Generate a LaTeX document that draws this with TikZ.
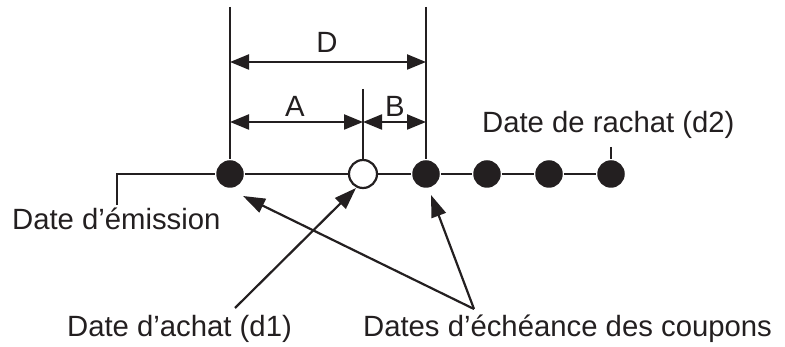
\documentclass[tikz,border=0pt]{standalone}
\usepackage{fontspec}
\setmainfont{Liberation Sans}
\usetikzlibrary{arrows.meta}
\definecolor{InkBlack}{RGB}{35,31,32}

\begin{document}
\begin{tikzpicture}[x=1pt,y=-1pt,line width=2.2pt,draw=InkBlack,
dot/.style={circle,fill=InkBlack,inner sep=0pt,minimum size=27.5pt},
opendot/.style={circle,draw=InkBlack,fill=white,inner sep=0pt,minimum size=28pt},
lbl/.style={anchor=base west,inner sep=0pt,text=InkBlack,font=\fontsize{29.3}{35}\selectfont},
dim/.style={{Triangle[length=19pt,width=15pt]}-{Triangle[length=19pt,width=15pt]},draw=InkBlack},
arrow/.style={-{Triangle[length=22pt,width=15pt]},draw=InkBlack}]
\useasboundingbox (0,0) rectangle (785,347);
% time line
\node[dot] (d0) at (230,174) {};
\node[opendot] (d1) at (363,174) {};
\node[dot] (d2) at (426,174) {};
\node[dot] (d3) at (487,174) {};
\node[dot] (d4) at (549,174) {};
\node[dot] (d5) at (611,174) {};
\foreach \x/\y in {d0/d1,d1/d2,d2/d3,d3/d4,d4/d5}{\draw (\x)--(\y);}
% extension lines
\coordinate (em) at (117,205);
\coordinate (topl) at (230,7);
\coordinate (topr) at (426,7);
\coordinate (tick1) at (363,89);
\coordinate (tick5) at (611,147);
\draw (em) |- (d0);
\foreach \x/\y in {topl/d0,topr/d2,tick1/d1,tick5/d5}{\draw (\x)--(\y);}
% dimensions
\coordinate (dl) at (230,62);
\coordinate (dr) at (426,62);
\coordinate (al) at (230,122);
\coordinate (am) at (363,122);
\coordinate (ar) at (426,122);
\draw[dim] (dl)--(dr);
\draw[dim] (al)--(am);
\draw[dim] (am)--(ar);
\node[lbl,anchor=base] (D) at (327,53) {D};
\node[lbl,anchor=base] (A) at (295,117) {A};
\node[lbl,anchor=base] (B) at (395,117) {B};
% labels
\node[lbl] (emis) at (11,230) {Date d’émission};
\node[lbl] (rachat) at (481,133) {Date de rachat (d2)};
\node[lbl] (achat) at (66,337) {Date d’achat (d1)};
\node[lbl] (coupons) at (362,337) {Dates d’échéance des coupons};
% pointers
\coordinate (pa) at (235,308);
\coordinate (pc) at (474,309);
\coordinate (t0) at (243,196);
\coordinate (t1) at (356,188);
\coordinate (t2) at (431,195);
\draw[arrow] (pa)--(t1);
\foreach \y in {t0,t2}{\draw[arrow] (pc)--(\y);}
\end{tikzpicture}
\end{document}
